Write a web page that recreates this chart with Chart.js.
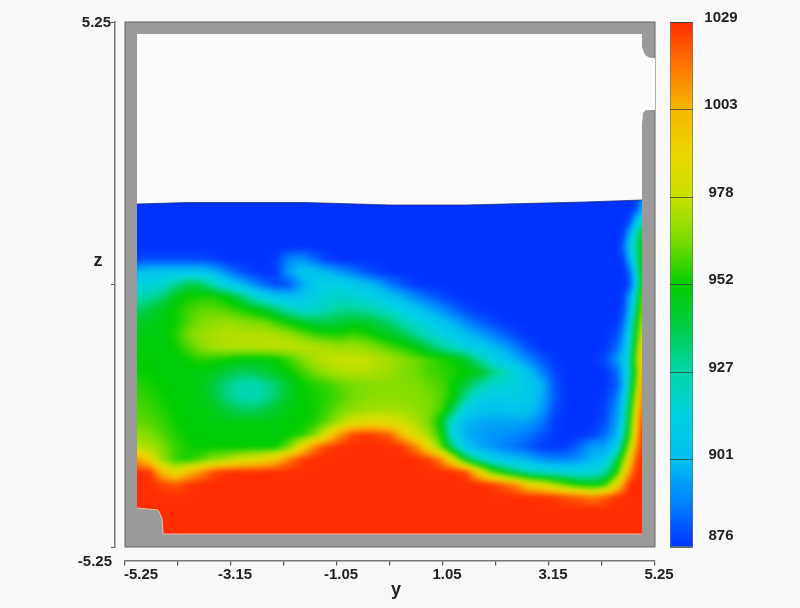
<!DOCTYPE html>
<html lang="en">
<head>
<meta charset="UTF-8">
<title>Density field</title>
<script src="https://cdn.jsdelivr.net/npm/chart.js"></script>
<style>
  html, body { margin: 0; padding: 0; background: #f9f9f9; }
  #wrap { position: relative; width: 800px; height: 608px; overflow: hidden; }
  #field { position: absolute; left: 0; top: 0; }
  #bar { position: absolute; left: 660px; top: 0; }
</style>
</head>
<body>
<div id="wrap">
  <canvas id="field" width="800" height="608"></canvas>
  <canvas id="bar" width="140" height="608"></canvas>
</div>
<script>
// horizontal sample positions (finer next to the right wall)
const yCols = [-5,-4.75,-4.5,-4.25,-4,-3.75,-3.5,-3.25,-3,-2.75,
  -2.5,-2.25,-2,-1.75,-1.5,-1.25,-1,-0.75,-0.5,-0.25,
  0,0.25,0.5,0.75,1,1.25,1.5,1.75,2,2.25,
  2.5,2.75,3,3.25,3.5,3.75,4,4.25,4.5,4.625,
  4.75,4.875,5];
const zRows = [1.75,1.5,1.25,1,0.75,0.5,0.25,0,-0.25,-0.5,-0.75,-1,-1.25,-1.5,
  -1.75,-2,-2.25,-2.5,-2.75,-3,-3.25,-3.5,-3.75,-4,-4.25,-4.5,-4.75,-5];

// density, one row per zRows entry
const density = [
[876,876,876,876,876,876,876,876,876,876, 876,876,876,876,876,876,876,876,876,876, 876,876,876,876,876,876,876,876,876,876, 876,876,876,876,876,876,876,876,876,876, 876,876,890],
[876,876,876,876,876,876,876,876,876,876, 876,876,876,876,876,876,876,876,876,876, 876,876,876,876,876,876,876,876,876,876, 876,876,876,876,876,876,876,876,876,876, 876,880,900],
[876,876,876,876,876,876,876,876,876,876, 876,876,876,876,876,876,876,876,876,876, 876,876,876,876,876,876,876,876,876,876, 876,876,876,876,876,876,876,876,876,876, 880,905,925],
[876,876,876,876,876,876,876,876,876,876, 876,876,876,876,876,876,876,876,876,876, 876,876,876,876,876,876,876,876,876,876, 876,876,876,876,876,876,876,876,876,878, 900,925,945],
[876,876,876,876,876,876,876,876,876,876, 876,876,876,876,876,876,876,876,876,876, 876,876,876,876,876,876,876,876,876,876, 876,876,876,876,876,876,876,876,876,885, 908,930,950],
[880,880,880,880,880,880,878,876,876,876, 876,878,890,893,885,878,876,876,876,876, 876,876,876,876,876,876,876,876,876,876, 876,876,876,876,876,876,876,876,876,878, 898,925,950],
[900,905,905,905,905,905,900,890,882,878, 876,878,895,905,905,900,893,888,882,878, 876,876,876,876,876,876,876,876,876,876, 876,876,876,876,876,876,876,876,876,876, 885,915,955],
[912,915,920,930,940,938,925,912,903,893, 885,880,882,895,908,912,912,908,903,897, 888,882,877,876,876,876,876,876,876,876, 876,876,876,876,876,876,876,876,876,876, 880,910,955],
[925,928,935,948,953,955,955,950,940,925, 912,905,902,905,912,918,920,918,915,910, 905,898,891,885,880,877,876,876,876,876, 876,876,876,876,876,876,876,876,876,878, 895,925,965],
[935,942,948,953,958,962,962,960,956,951, 945,935,925,918,920,924,930,930,928,924, 918,912,905,898,892,885,880,877,876,876, 876,876,876,876,876,876,876,876,876,880, 900,935,968],
[945,948,950,953,960,966,968,970,968,966, 964,958,951,945,940,940,942,945,945,940, 935,925,918,912,905,898,890,884,880,877, 876,876,876,876,876,876,876,876,877,885, 908,945,975],
[948,950,950,955,965,970,973,975,975,975, 975,973,970,964,958,956,955,958,956,950, 946,940,930,922,915,908,902,896,890,884, 879,876,876,876,876,876,876,876,880,892, 915,952,982],
[950,950,950,953,960,967,972,974,975,975, 976,977,977,977,975,973,970,971,969,965, 960,955,950,940,930,922,914,908,902,896, 888,880,876,876,876,876,876,876,885,897, 920,960,990],
[952,952,950,950,953,956,955,953,950,950, 950,952,958,966,973,977,978,978,978,975, 972,968,964,960,956,952,945,930,915,906, 898,890,882,877,876,876,876,880,893,905, 925,965,1000],
[952,952,950,950,950,950,948,942,938,938, 942,948,952,958,965,970,974,975,975,973, 970,966,964,960,957,955,952,948,936,925, 915,903,890,879,876,876,876,876,885,900, 925,958,1005],
[956,954,952,950,950,948,942,933,927,925, 928,935,945,952,955,958,962,965,966,967, 967,967,966,963,960,953,942,930,920,917, 915,908,900,882,876,876,876,876,883,898, 930,965,1010],
[958,956,953,951,950,949,943,933,927,925, 928,936,946,952,954,956,960,964,967,968, 968,968,967,965,961,952,930,915,910,910, 912,908,898,884,876,876,876,877,888,905, 938,975,1015],
[960,958,955,952,950,950,948,942,938,936, 940,945,950,952,953,958,964,968,971,972, 972,971,969,966,960,938,912,905,903,903, 905,903,895,880,876,876,876,878,892,910, 948,985,1020],
[963,961,957,953,951,950,950,950,950,950, 950,950,951,952,955,962,972,982,985,986, 984,980,974,966,950,915,900,897,896,896, 896,895,888,878,876,876,876,880,895,918, 955,992,1025],
[968,966,960,955,952,951,950,950,950,950, 950,950,952,955,965,985,1010,1024,1027,1025, 1020,1000,982,972,955,915,898,895,893,892, 890,887,882,877,876,876,878,885,900,925, 960,1000,1028],
[975,972,966,958,954,952,952,952,952,952, 952,953,965,990,1015,1026,1029,1029,1029,1029, 1029,1028,1015,990,965,932,905,897,893,889, 886,882,878,877,878,885,895,895,910,945, 975,1010,1029],
[1010,990,968,958,955,960,968,972,980,985, 990,1000,1015,1026,1029,1029,1029,1029,1029,1029, 1029,1029,1029,1027,1015,985,948,925,912,905, 902,898,892,890,890,893,900,905,940,965, 995,1022,1029],
[1029,1027,1000,985,1000,1012,1024,1029,1029,1029, 1029,1029,1029,1029,1029,1029,1029,1029,1029,1029, 1029,1029,1029,1029,1029,1029,1025,995,965,948, 935,925,920,918,915,915,917,925,955,985, 1010,1027,1029],
[1029,1029,1025,1022,1027,1029,1029,1029,1029,1029, 1029,1029,1029,1029,1029,1029,1029,1029,1029,1029, 1029,1029,1029,1029,1029,1029,1029,1029,1027,1020, 1012,992,985,972,962,952,948,955,990,1012, 1029,1029,1029],
[1029,1029,1029,1029,1029,1029,1029,1029,1029,1029, 1029,1029,1029,1029,1029,1029,1029,1029,1029,1029, 1029,1029,1029,1029,1029,1029,1029,1029,1029,1029, 1029,1029,1028,1027,1023,1020,1015,1020,1028,1029, 1029,1029,1029],
[1029,1029,1029,1029,1029,1029,1029,1029,1029,1029, 1029,1029,1029,1029,1029,1029,1029,1029,1029,1029, 1029,1029,1029,1029,1029,1029,1029,1029,1029,1029, 1029,1029,1029,1029,1029,1029,1029,1029,1029,1029, 1029,1029,1029],
[1029,1029,1029,1029,1029,1029,1029,1029,1029,1029, 1029,1029,1029,1029,1029,1029,1029,1029,1029,1029, 1029,1029,1029,1029,1029,1029,1029,1029,1029,1029, 1029,1029,1029,1029,1029,1029,1029,1029,1029,1029, 1029,1029,1029],
[1029,1029,1029,1029,1029,1029,1029,1029,1029,1029, 1029,1029,1029,1029,1029,1029,1029,1029,1029,1029, 1029,1029,1029,1029,1029,1029,1029,1029,1029,1029, 1029,1029,1029,1029,1029,1029,1029,1029,1029,1029, 1029,1029,1029]
];

// tank outline
const cavityY = [-5.012,4.992,4.992,5.051,5.15,5.25,5.25,5.071,5.012,4.992,4.992,-4.497,-4.517,-4.596,-5.012];
const cavityZ = [5.01,5.01,4.75,4.59,4.53,4.53,3.49,3.49,3.43,3.2,-4.99,-4.99,-4.67,-4.51,-4.47];
// free surface, left to right
const surfaceY = [-5.012,-4,-1.7,0,1.5,3.87,4.992];
const surfaceZ = [1.61,1.64,1.64,1.59,1.59,1.65,1.69];
// floor of the water, right to left
const floorY = [4.992,-4.497,-4.517,-4.596,-5.012];
const floorZ = [-4.99,-4.99,-4.67,-4.51,-4.47];

const xTickValues = [-5.25,-4.2,-3.15,-2.1,-1.05,0,1.05,2.1,3.15,4.2,5.25];
const xTickLabels = ['-5.25','','-3.15','','-1.05','','1.05','','3.15','','5.25'];
const zTickValues = [-5.25,0,5.25];
const zTickLabels = ['-5.25','','5.25'];

const barTicks = [876,901.5,927,952.5,978,1003.5,1029];
const barLabels = ['876','901','927','952','978','1003','1029'];

// colour table
const cmapValues = [876,889,901,914,927,940,952,965,978,990,1003,1016,1029];
const cmapColors = [[0,50,255],[0,130,255],[0,190,240],[0,210,225],[0,215,170],[0,205,70],
  [0,205,0],[120,220,0],[200,225,0],[235,215,0],[245,185,0],[255,120,0],[255,45,0]];

const FONT = '"Liberation Sans", Arial, sans-serif';

function colorFor(v) {
  let k = 0;
  while (k < cmapValues.length - 2 && v > cmapValues[k + 1]) k++;
  const t = Math.max(0, Math.min(1, (v - cmapValues[k]) / (cmapValues[k + 1] - cmapValues[k])));
  const a = cmapColors[k], b = cmapColors[k + 1];
  return [a[0] + (b[0] - a[0]) * t, a[1] + (b[1] - a[1]) * t, a[2] + (b[2] - a[2]) * t];
}

function sampleAt(y, z) {
  let i = 0, j = 0;
  while (i < yCols.length - 2 && y > yCols[i + 1]) i++;
  while (j < zRows.length - 2 && z < zRows[j + 1]) j++;
  const tx = Math.max(0, Math.min(1, (y - yCols[i]) / (yCols[i + 1] - yCols[i])));
  const tz = Math.max(0, Math.min(1, (z - zRows[j]) / (zRows[j + 1] - zRows[j])));
  const top = density[j][i] * (1 - tx) + density[j][i + 1] * tx;
  const low = density[j + 1][i] * (1 - tx) + density[j + 1][i + 1] * tx;
  return top * (1 - tz) + low * tz;
}

function tracePath(ctx, xs, ys, sx, sz, start) {
  xs.forEach((v, n) => {
    const px = sx.getPixelForValue(v), py = sz.getPixelForValue(ys[n]);
    if (n === 0 && start) ctx.moveTo(px, py); else ctx.lineTo(px, py);
  });
}

// paints walls, cavity and the smooth density field from the grid, through the scales
const fieldPlugin = {
  id: 'fieldPlugin',
  beforeDatasetsDraw(chart) {
    const { ctx, chartArea: a, scales: { x: sx, y: sz } } = chart;
    ctx.save();
    ctx.fillStyle = '#9a9a9a';
    ctx.fillRect(a.left, a.top, a.width, a.height);
    ctx.strokeStyle = '#666';
    ctx.lineWidth = 1;
    ctx.strokeRect(a.left, a.top, a.width, a.height);

    ctx.beginPath();
    tracePath(ctx, cavityY, cavityZ, sx, sz, true);
    ctx.closePath();
    ctx.fillStyle = '#fbfbfb';
    ctx.fill();

    const w = Math.ceil(a.width), h = Math.ceil(a.height);
    const off = document.createElement('canvas');
    off.width = w; off.height = h;
    const octx = off.getContext('2d');
    const img = octx.createImageData(w, h);
    for (let py = 0; py < h; py++) {
      const z = sz.getValueForPixel(a.top + py + 0.5);
      for (let px = 0; px < w; px++) {
        const c = colorFor(sampleAt(sx.getValueForPixel(a.left + px + 0.5), z));
        const o = (py * w + px) * 4;
        img.data[o] = c[0]; img.data[o + 1] = c[1]; img.data[o + 2] = c[2]; img.data[o + 3] = 255;
      }
    }
    octx.putImageData(img, 0, 0);

    ctx.beginPath();
    tracePath(ctx, surfaceY, surfaceZ, sx, sz, true);
    tracePath(ctx, floorY, floorZ, sx, sz, false);
    ctx.closePath();
    ctx.save();
    ctx.clip();
    ctx.filter = 'blur(2px)';
    ctx.drawImage(off, a.left, a.top);
    ctx.filter = 'none';
    ctx.restore();

    // pale rim along the floor
    ctx.beginPath();
    tracePath(ctx, floorY, floorZ, sx, sz, true);
    ctx.strokeStyle = '#f0b8a4';
    ctx.lineWidth = 1;
    ctx.stroke();
    ctx.restore();
  },
  afterDraw(chart) {
    const { ctx, scales: { x: sx, y: sz } } = chart;
    ctx.save();
    ctx.fillStyle = '#222';
    ctx.font = 'bold 15px ' + FONT;
    ctx.textBaseline = 'middle';
    ctx.textAlign = 'center';
    xTickLabels.forEach((t, n) => {
      if (!t) return;
      ctx.fillText(t, sx.getPixelForValue(xTickValues[n]) + (n === 0 ? 16 : 4), 575);
    });
    ctx.textAlign = 'right';
    ctx.fillText(zTickLabels[0], 112, 562);
    ctx.fillText(zTickLabels[2], 111, 23);
    ctx.textAlign = 'center';
    ctx.font = 'bold 18px ' + FONT;
    ctx.fillText('y', 396, 590);
    ctx.fillText('z', 98, 261);
    ctx.restore();
  }
};

const gridPoints = [];
zRows.forEach((z, j) => yCols.forEach((y, i) => gridPoints.push({ x: y, y: z, v: density[j][i] })));

new Chart(document.getElementById('field'), {
  type: 'scatter',
  data: {
    datasets: [
      { label: 'density', data: gridPoints, pointRadius: 0, pointHoverRadius: 0 },
      { label: 'surface', data: surfaceY.map((y, n) => ({ x: y, y: surfaceZ[n] })), showLine: true,
        borderColor: 'rgba(20,40,120,0.75)', borderWidth: 1, pointRadius: 0 }
    ]
  },
  options: {
    responsive: false,
    animation: false,
    devicePixelRatio: 1,
    layout: { padding: { left: 125, right: 145, top: 22, bottom: 61 } },
    plugins: { legend: { display: false }, tooltip: { enabled: false } },
    scales: {
      x: {
        type: 'linear', min: -5.25, max: 5.25,
        position: { y: -5.53 },
        afterBuildTicks: s => { s.ticks = xTickValues.map(v => ({ value: v })); },
        ticks: { display: false },
        border: { color: '#777', width: 1.5 },
        grid: { drawOnChartArea: false, drawTicks: true, tickLength: 4, color: '#555', lineWidth: 1.2 }
      },
      y: {
        type: 'linear', min: -5.25, max: 5.25,
        position: { x: -5.448 },
        afterBuildTicks: s => { s.ticks = zTickValues.map(v => ({ value: v })); },
        ticks: { display: false },
        border: { color: '#777', width: 1.5 },
        grid: { drawOnChartArea: false, drawTicks: true, tickLength: 3, color: '#555' }
      }
    }
  },
  plugins: [fieldPlugin]
});

// colour bar
const barLabelPlugin = {
  id: 'barLabelPlugin',
  afterDraw(chart) {
    const { ctx, scales: { y } } = chart;
    ctx.save();
    ctx.fillStyle = '#222';
    ctx.font = 'bold 15px ' + FONT;
    ctx.textAlign = 'center';
    ctx.textBaseline = 'middle';
    barLabels.forEach((t, n) => {
      ctx.fillText(t, 61, y.getPixelForValue(barTicks[n]) - (n === 0 ? 11 : 4.5));
    });
    ctx.restore();
  }
};

new Chart(document.getElementById('bar'), {
  type: 'bar',
  data: {
    labels: [''],
    datasets: [{
      data: [[876, 1029]],
      barPercentage: 1,
      categoryPercentage: 1,
      borderColor: 'rgba(40,60,60,0.7)',
      borderWidth: 1,
      borderSkipped: false,
      backgroundColor(c) {
        const a = c.chart.chartArea;
        if (!a) return '#000';
        const g = c.chart.ctx.createLinearGradient(0, a.bottom, 0, a.top);
        cmapValues.forEach((v, n) => {
          const rgb = cmapColors[n];
          g.addColorStop((v - 876) / (1029 - 876), 'rgb(' + rgb.join(',') + ')');
        });
        return g;
      }
    }]
  },
  options: {
    responsive: false,
    animation: false,
    devicePixelRatio: 1,
    layout: { padding: { left: 10, right: 107, top: 22, bottom: 61 } },
    plugins: { legend: { display: false }, tooltip: { enabled: false } },
    scales: {
      x: { display: false },
      y: {
        position: 'right',
        min: 876, max: 1029,
        afterBuildTicks: s => { s.ticks = barTicks.map(v => ({ value: v })); },
        ticks: { display: false },
        border: { display: false },
        grid: { z: 1, drawTicks: false, color: 'rgba(50,60,50,0.75)', lineWidth: 1 }
      }
    }
  },
  plugins: [barLabelPlugin]
});
</script>
</body>
</html>
